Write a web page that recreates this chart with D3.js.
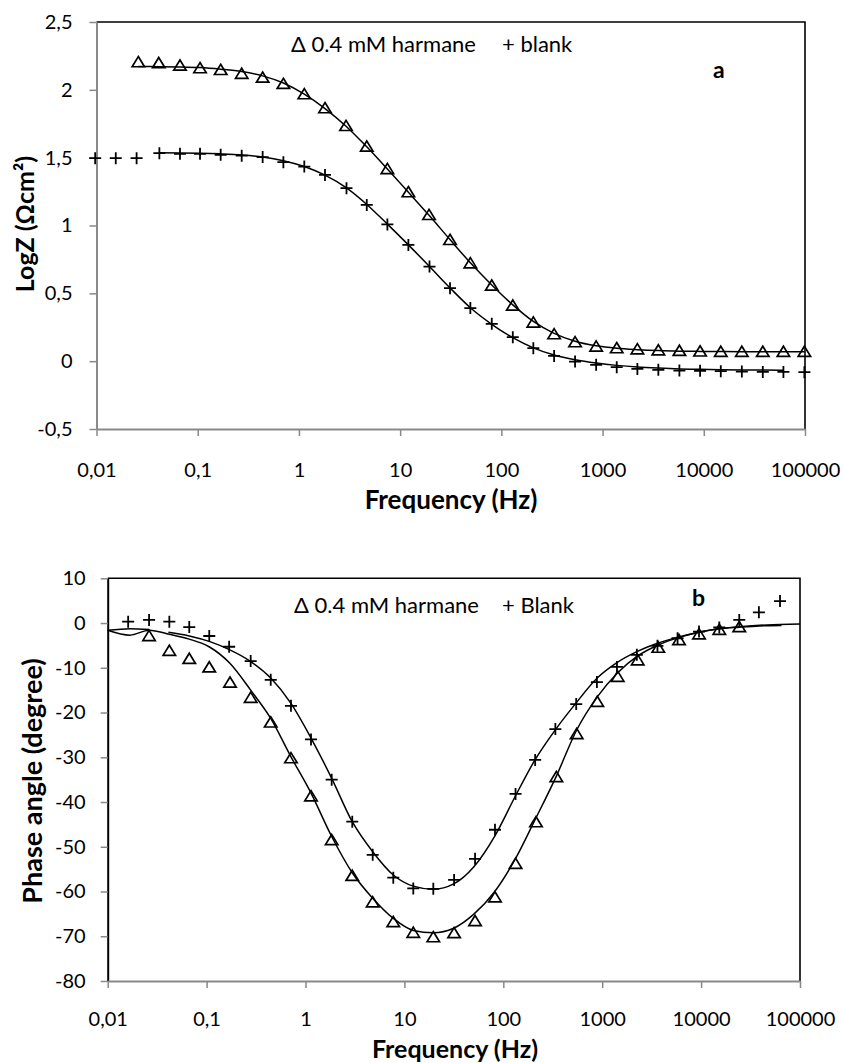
<!DOCTYPE html>
<html>
<head>
<meta charset="utf-8">
<script src="https://cdn.jsdelivr.net/npm/d3@7"></script>
<style>
  body { margin: 0; background: #fff; }
  svg { display: block; }
  text { font-family: Lato, "Open Sans", "DejaVu Sans", sans-serif; fill: #000; }
</style>
</head>
<body>
<svg id="chart" width="844" height="1063"></svg>
<script>
// ---------- Panel a: Bode modulus (log |Z|) ----------
const logzFreqHarmane = [0.0259, 0.0412, 0.0668, 0.1054, 0.1686, 0.272, 0.438, 0.702, 1.13, 1.81, 2.92, 4.68, 7.48, 12.06, 19.3, 31.1, 49.4, 80.4, 129.7, 207, 332, 535, 864, 1380, 2208, 3557, 5741, 9190, 14720, 23770, 38290, 61200, 98600];
const logzHarmane = [2.204, 2.197, 2.179, 2.160, 2.147, 2.118, 2.090, 2.044, 1.968, 1.865, 1.734, 1.582, 1.417, 1.246, 1.078, 0.894, 0.722, 0.557, 0.410, 0.285, 0.199, 0.140, 0.108, 0.096, 0.088, 0.080, 0.076, 0.072, 0.069, 0.069, 0.069, 0.069, 0.069];
const logzFitHarmane = [2.172, 2.171, 2.169, 2.164, 2.152, 2.135, 2.103, 2.050, 1.968, 1.862, 1.732, 1.580, 1.416, 1.245, 1.075, 0.896, 0.725, 0.562, 0.415, 0.293, 0.205, 0.147, 0.113, 0.095, 0.085, 0.078, 0.074, 0.072, 0.071, 0.070, 0.070, 0.070, 0.070];

const logzFreqBlank = [0.0097, 0.0155, 0.0249, 0.0418, 0.0668, 0.1054, 0.1686, 0.272, 0.438, 0.702, 1.13, 1.81, 2.95, 4.68, 7.48, 12.06, 19.5, 31.1, 49.4, 80.4, 129.7, 207, 332, 535, 864, 1380, 2208, 3557, 5741, 9190, 14720, 23770, 38290, 61200, 98600];
const logzBlank = [1.496, 1.496, 1.496, 1.533, 1.528, 1.528, 1.521, 1.515, 1.504, 1.467, 1.434, 1.373, 1.275, 1.152, 1.008, 0.857, 0.697, 0.538, 0.391, 0.275, 0.177, 0.096, 0.039, -0.003, -0.027, -0.044, -0.057, -0.064, -0.069, -0.071, -0.074, -0.077, -0.079, -0.079, -0.081];
const logzFitFreqBlank = [0.0418, 0.0668, 0.1054, 0.1686, 0.272, 0.438, 0.702, 1.13, 1.81, 2.95, 4.68, 7.48, 12.06, 19.5, 31.1, 49.4, 80.4, 129.7, 207, 332, 535, 864, 1380, 2208, 3557, 5741, 9190, 14720, 23770, 38290, 61200];
const logzFitBlank = [1.536, 1.535, 1.533, 1.528, 1.520, 1.505, 1.478, 1.435, 1.371, 1.277, 1.155, 1.010, 0.857, 0.698, 0.540, 0.394, 0.272, 0.173, 0.098, 0.045, 0.010, -0.014, -0.031, -0.043, -0.051, -0.057, -0.060, -0.063, -0.065, -0.066, -0.067];

// ---------- Panel b: Bode phase ----------
const phaseFreqHarmane = [0.0262, 0.0420, 0.0668, 0.1064, 0.1725, 0.279, 0.445, 0.713, 1.137, 1.84, 2.97, 4.78, 7.72, 12.3, 19.6, 31.8, 51.8, 82.4, 133, 214, 344, 552, 892, 1435, 2286, 3690, 5980, 9530, 15280, 24320];
const phaseHarmane = [-2.9, -6.2, -8.0, -9.9, -13.3, -16.7, -22.2, -30.2, -38.7, -48.5, -56.5, -62.4, -66.8, -69.2, -70.2, -69.3, -66.6, -61.3, -53.8, -44.5, -34.4, -24.8, -17.6, -12.0, -8.3, -5.5, -3.8, -2.5, -1.5, -0.9];
const phaseFitFreqHarmane = [0.01, 0.0168, 0.0263, 0.042, 0.0668, 0.106, 0.172, 0.279, 0.445, 0.713, 1.137, 1.84, 2.97, 4.78, 7.72, 12.3, 19.6, 31.5, 50.7, 82, 131, 209, 344, 552, 892, 1435, 2286, 3690, 5980, 9530, 15280, 24320, 39000, 65000];
const phaseFitHarmane = [-1.6, -2.7, -1.6, -2.5, -3.6, -5.3, -9.0, -15.0, -21.3, -29.9, -38.0, -47.7, -55.8, -61.5, -66.0, -68.7, -69.2, -68.2, -65.0, -60.0, -52.9, -44.0, -34.2, -23.9, -16.5, -11.1, -7.35, -4.9, -3.2, -2.06, -1.3, -0.94, -0.65, -0.55];

const phaseFreqBlank = [0.0161, 0.0262, 0.0420, 0.0668, 0.1064, 0.1690, 0.279, 0.445, 0.713, 1.137, 1.84, 2.97, 4.78, 7.72, 12.3, 19.6, 31.8, 51.8, 82.4, 133, 210, 336, 546, 884, 1410, 2240, 3620, 5780, 9530, 15280, 24320, 38400, 62800];
const phaseBlank = [0.3, 0.7, 0.3, -0.9, -2.9, -5.3, -8.5, -12.7, -18.5, -26.0, -35.0, -44.4, -51.8, -56.9, -59.3, -59.4, -57.4, -52.7, -46.2, -38.2, -30.6, -23.7, -18.1, -13.2, -9.8, -7.1, -5.1, -3.4, -1.9, -1.0, 0.7, 2.4, 4.9];
const phaseFitFreqBlank = [0.01, 0.0168, 0.0263, 0.033, 0.0411, 0.0668, 0.108, 0.172, 0.279, 0.445, 0.71, 1.137, 1.84, 2.97, 4.78, 7.72, 12.3, 19.6, 31.5, 50.7, 82, 133, 209, 340, 543, 890, 1410, 2240, 3620, 5780, 9530, 15280, 24320, 39000, 62800, 100000];
const phaseFitBlank = [-1.6, -1.25, -1.45, null, -2.06, -2.88, -4.15, -6.0, -8.6, -12.3, -17.9, -25.7, -34.7, -44.4, -51.1, -56.3, -58.8, -59.5, -58.3, -54.4, -47.6, -38.6, -30.6, -23.7, -17.9, -12.3, -8.85, -6.4, -4.5, -3.2, -2.06, -1.3, -0.8, -0.5, -0.35, -0.2];

// ---------- Axis ticks and labels ----------
const freqTicks = [0.01, 0.1, 1, 10, 100, 1000, 10000, 100000];
const freqTickLabels = ["0,01", "0,1", "1", "10", "100", "1000", "10000", "100000"];
const logzTicks = [2.5, 2, 1.5, 1, 0.5, 0, -0.5];
const logzTickLabels = ["2,5", "2", "1,5", "1", "0,5", "0", "-0,5"];
const phaseTicks = [10, 0, -10, -20, -30, -40, -50, -60, -70, -80];
const phaseTickLabels = ["10", "0", "-10", "-20", "-30", "-40", "-50", "-60", "-70", "-80"];

const legendA = ["\u0394 0.4 mM harmane", "+ blank"];
const legendB = ["\u0394 0.4 mM harmane", "+ Blank"];

// ---------- Drawing ----------
const svg = d3.select("#chart");
const AXIS_GRAY = "#898989";
const triPath = "M0,-5.6L6.2,4.6L-6.2,4.6Z";
const plusPath = "M-6,0H6M0,-6V6";

function zip(fs, vs) { return fs.map((f, i) => ({ f, v: vs[i] })); }

function panel(opt) {
  const x = d3.scaleLog().domain([0.01, 100000]).range([opt.left, opt.right]);
  const y = d3.scaleLinear().domain(opt.yDomain).range([opt.bottom, opt.top]);
  const g = svg.append("g");

  // top and right frame
  g.append("path")
    .attr("d", `M${opt.left},${opt.top}H${opt.right}V${opt.bottom}`)
    .attr("fill", "none").attr("stroke", "#000").attr("stroke-width", 1.6);

  // y axis
  const yAxis = d3.axisLeft(y).tickValues(opt.yTicks)
    .tickFormat((d, i) => opt.yLabels[i]).tickSize(7).tickSizeOuter(0).tickPadding(opt.yPad);
  const ya = g.append("g").attr("transform", `translate(${opt.left},0)`).call(yAxis);
  ya.select(".domain").attr("stroke", opt.yAxisColor).attr("stroke-width", 2);
  ya.selectAll(".tick line").attr("stroke", AXIS_GRAY).attr("stroke-width", 1.5);
  ya.selectAll(".tick text").attr("font-size", 20).attr("font-family", "Lato, 'Open Sans', sans-serif");

  // x axis
  const xAxis = d3.axisBottom(x).tickValues(freqTicks)
    .tickFormat((d, i) => freqTickLabels[i]).tickSize(7).tickSizeOuter(0);
  const xa = g.append("g").attr("transform", `translate(0,${opt.bottom})`).call(xAxis);
  xa.select(".domain").attr("stroke", AXIS_GRAY).attr("stroke-width", 2);
  xa.selectAll(".tick line").attr("stroke", AXIS_GRAY).attr("stroke-width", 1.5);
  xa.selectAll(".tick text").attr("font-size", 20).attr("y", opt.xPad).attr("dy", "0.71em")
    .attr("font-family", "Lato, 'Open Sans', sans-serif");

  // fitted curves
  const line = d3.line().defined(d => d.v != null)
    .x(d => x(d.f)).y(d => y(d.v)).curve(d3.curveMonotoneX);
  opt.fits.forEach(s => {
    g.append("path").datum(zip(s[0], s[1])).attr("d", line)
      .attr("fill", "none").attr("stroke", "#000").attr("stroke-width", 1.5);
  });

  // markers
  g.append("g").selectAll("path").data(zip(opt.tri[0], opt.tri[1])).join("path")
    .attr("d", triPath).attr("transform", d => `translate(${x(d.f)},${y(d.v)})`)
    .attr("fill", "none").attr("stroke", "#000").attr("stroke-width", 1.7).attr("stroke-linejoin", "miter");
  g.append("g").selectAll("path").data(zip(opt.plus[0], opt.plus[1])).join("path")
    .attr("d", plusPath).attr("transform", d => `translate(${x(d.f)},${y(d.v)})`)
    .attr("fill", "none").attr("stroke", "#000").attr("stroke-width", 1.8);

  // legend
  g.append("text").attr("x", opt.legX[0]).attr("y", opt.legY).attr("font-size", 22).text(opt.legend[0]);
  g.append("text").attr("x", opt.legX[1]).attr("y", opt.legY).attr("font-size", 22).text(opt.legend[1]);

  // panel letter
  g.append("text").attr("x", opt.letter[1]).attr("y", opt.letter[2])
    .attr("font-size", 23).attr("font-weight", "bold").text(opt.letter[0]);

  // axis titles
  g.append("text").attr("x", opt.xTitle[0]).attr("y", opt.xTitle[1])
    .attr("text-anchor", "middle").attr("font-size", opt.xTitleSize).attr("font-weight", "bold")
    .text("Frequency (Hz)");
  g.append("text").attr("transform", `translate(${opt.yTitle[0]},${opt.yTitle[1]}) rotate(-90)`)
    .attr("text-anchor", "middle").attr("dominant-baseline", "central")
    .attr("font-size", opt.yTitleSize).attr("font-weight", "bold")
    .text(opt.yTitleText);
}

panel({
  left: 96.5, right: 805, top: 22, bottom: 429,
  yDomain: [-0.5, 2.5], yTicks: logzTicks, yLabels: logzTickLabels, yPad: 17, xPad: 33.7,
  yAxisColor: AXIS_GRAY,
  fits: [[logzFreqHarmane, logzFitHarmane], [logzFitFreqBlank, logzFitBlank]],
  tri: [logzFreqHarmane, logzHarmane],
  plus: [logzFreqBlank, logzBlank],
  legend: legendA, legX: [291, 502], legY: 51.5,
  letter: ["a", 713, 78],
  xTitle: [451, 509], xTitleSize: 26,
  yTitle: [24, 224], yTitleText: "LogZ (\u03A9cm\u00B2)", yTitleSize: 25
});

panel({
  left: 107.7, right: 800, top: 578.3, bottom: 981,
  yDomain: [-80, 10], yTicks: phaseTicks, yLabels: phaseTickLabels, yPad: 15, xPad: 31,
  yAxisColor: "#000",
  fits: [[phaseFitFreqHarmane, phaseFitHarmane], [phaseFitFreqBlank, phaseFitBlank]],
  tri: [phaseFreqHarmane, phaseHarmane],
  plus: [phaseFreqBlank, phaseBlank],
  legend: legendB, legX: [294, 502], legY: 612.5,
  letter: ["b", 692, 606],
  xTitle: [455, 1057.5], xTitleSize: 25,
  yTitle: [31, 781], yTitleText: "Phase angle (degree)", yTitleSize: 27
});
</script>
</body>
</html>
